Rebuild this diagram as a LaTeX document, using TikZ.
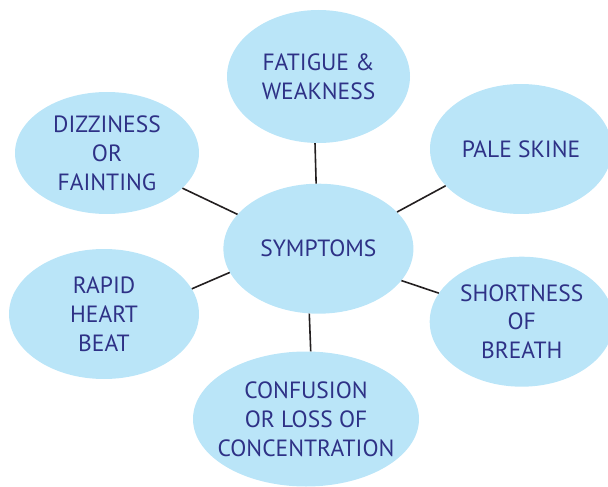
\documentclass[tikz,border=0pt]{standalone}
\usepackage{fontspec}
\setmainfont{PT Sans}
\usetikzlibrary{shapes.geometric}
\definecolor{bubble}{HTML}{BAE5F8}
\definecolor{ink}{HTML}{2E3186}
\definecolor{wire}{HTML}{231F20}
\tikzset{
  bubble/.style={ellipse, fill=bubble, draw=none, inner sep=0pt},
  lbl/.style={text=ink, align=center, font=\fontsize{23.5}{28.8}\selectfont, inner sep=0pt},
  wirestyle/.style={draw=wire, line width=1.6pt}
}
\begin{document}
\begin{tikzpicture}[x=1pt,y=-1pt]
\useasboundingbox (0,0) rectangle (608,487);
\clip (0,0) rectangle (608,487);
% ellipses
\node[bubble, minimum width=190pt, minimum height=130pt] (c) at (318.4,248.7) {};
\node[bubble, minimum width=183pt, minimum height=133pt] (fat) at (318.5,76.5) {};
\node[bubble, minimum width=184pt, minimum height=122pt] (diz) at (107,153) {};
\node[bubble, minimum width=182pt, minimum height=130pt] (pale) at (521,149) {};
\node[bubble, minimum width=190pt, minimum height=130pt] (rap) at (104,314) {};
\node[bubble, minimum width=184pt, minimum height=130pt] (sho) at (521.7,321.7) {};
\node[bubble, minimum width=226pt, minimum height=135pt] (con) at (306,419) {};
% labels
\node[lbl] (tc) at (c.center) {SYMPTOMS};
\node[lbl] (tfat) at (fat.center) {FATIGUE \&\\WEAKNESS};
\node[lbl] (tdiz) at (diz.center) {DIZZINESS\\OR\\FAINTING};
\node[lbl] (tpale) at (pale.center) {PALE SKINE};
\node[lbl] (trap) at (rap.center) {RAPID\\HEART\\BEAT};
\node[lbl] (tsho) at (sho.center) {SHORTNESS\\OF\\BREATH};
\node[lbl] (tcon) at (con.center) {CONFUSION\\OR LOSS OF\\CONCENTRATION};
% connectors
\draw[wirestyle] (c.92.4) -- (fat.267.6);
\draw[wirestyle] (c.157.3) -- (diz.335.7);
\draw[wirestyle] (c.25.9) -- (pale.206);
\draw[wirestyle] (c.195.2) -- (rap.16.7);
\draw[wirestyle] (c.339.2) -- (sho.161.7);
\draw[wirestyle] (c.262.6) -- (con.86.6);
\end{tikzpicture}
\end{document}
